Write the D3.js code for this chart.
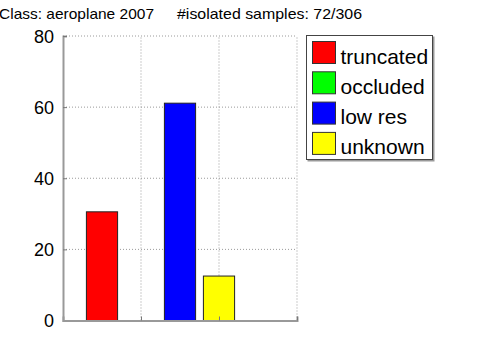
<!DOCTYPE html>
<html>
<head>
<meta charset="utf-8">
<script src="https://cdn.jsdelivr.net/npm/d3@7"></script>
<style>
  body { margin: 0; background: #fff; }
  text { font-family: "Liberation Sans", Arial, Helvetica, sans-serif; fill: #000; }
</style>
</head>
<body>
<svg id="chart" width="480" height="360"></svg>
<script>
// data: share of isolated samples (%) per cause
const categories = ["truncated", "occluded", "low res", "unknown"];
const values = [30.56, 0, 61.11, 12.5];
const colors = ["#ff0000", "#00ff00", "#0000ff", "#ffff00"];
const yTicks = [0, 20, 40, 60, 80];
const xGrid = [1, 2, 3];
const titleParts = ["Class: aeroplane 2007", "#isolated samples: 72/306"];

let svg = d3.select("#chart");

let x = d3.scaleLinear().domain([0, 3]).range([63, 297]);
let y = d3.scaleLinear().domain([0, 80]).range([320.5, 36]);
let barW = x(0.4) - x(0);

// grid
svg.append("g").selectAll("line").data(yTicks.filter(d => d > 0)).join("line")
  .attr("x1", x(0)).attr("x2", x(3))
  .attr("y1", d => y(d)).attr("y2", d => y(d))
  .attr("stroke", "#9a9a9a").attr("stroke-dasharray", "1,2");

svg.append("g").selectAll("line").data(xGrid).join("line")
  .attr("x1", d => x(d)).attr("x2", d => x(d))
  .attr("y1", y(0)).attr("y2", y(80))
  .attr("stroke", "#9a9a9a").attr("stroke-dasharray", "1,2");

// bars
svg.append("g").selectAll("rect").data(values).join("rect")
  .attr("x", (d, i) => x(0.5 * (i + 1)) - barW / 2)
  .attr("width", barW)
  .attr("y", d => y(d))
  .attr("height", d => y(0) - y(d))
  .attr("fill", (d, i) => colors[i])
  .attr("stroke", "#222").attr("stroke-width", 1);

// axes
let yAxis = d3.axisLeft(y).tickValues(yTicks).tickSize(-4).tickPadding(9);
let gy = svg.append("g").attr("transform", "translate(" + x(0) + ",0)").call(yAxis);
gy.select(".domain").attr("stroke", "#999").attr("stroke-width", 2);
gy.selectAll(".tick line").attr("stroke", "#777");
gy.selectAll(".tick text").attr("font-size", 18).attr("dy", "0.36em")
  .style("font-family", "'Liberation Sans', Arial, sans-serif");

let xAxis = d3.axisBottom(x).tickValues(xGrid).tickSize(-4).tickFormat("");
let gx = svg.append("g").attr("transform", "translate(0," + y(0) + ")").call(xAxis);
gx.select(".domain").attr("stroke", "#999").attr("stroke-width", 2);
gx.selectAll(".tick line").attr("stroke", "#777");

// title
svg.append("text").attr("x", -1).attr("y", 19).attr("font-size", 15)
  .attr("textLength", 155).attr("lengthAdjust", "spacingAndGlyphs").text(titleParts[0]);
svg.append("text").attr("x", 177).attr("y", 19).attr("font-size", 15)
  .attr("textLength", 185).attr("lengthAdjust", "spacingAndGlyphs").text(titleParts[1]);

// legend
let lg = svg.append("g").attr("transform", "translate(306,35)");
lg.append("rect").attr("x", 1.5).attr("y", 1.5).attr("width", 127).attr("height", 125)
  .attr("fill", "#999");
lg.append("rect").attr("x", 0.5).attr("y", 0.5).attr("width", 126).attr("height", 124)
  .attr("fill", "#fff").attr("stroke", "#444");

let items = lg.selectAll(".item").data(categories).join("g")
  .attr("class", "item")
  .attr("transform", (d, i) => "translate(0," + (i * 30.3) + ")");
items.append("rect").attr("x", 6.5).attr("y", 6.5).attr("width", 23).attr("height", 22)
  .attr("fill", (d, i) => colors[i]).attr("stroke", "#333");
items.append("text").attr("x", 34.5).attr("y", 28.5).attr("font-size", 21)
  .text(d => d);
</script>
</body>
</html>
